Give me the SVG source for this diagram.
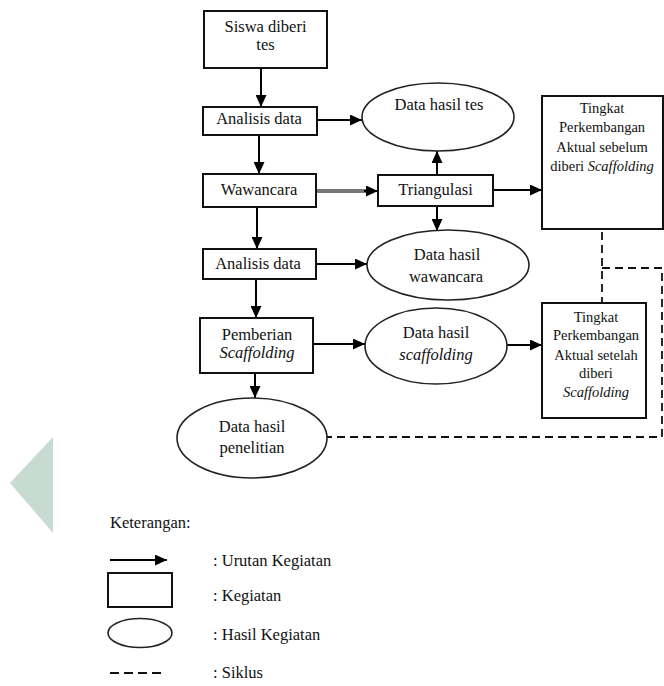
<svg xmlns="http://www.w3.org/2000/svg" width="664" height="686" viewBox="0 0 664 686">
<defs>
<marker id="ah" markerUnits="userSpaceOnUse" markerWidth="12" markerHeight="11" refX="12" refY="5.5" orient="auto">
<path d="M0,0 L12,5.5 L0,11 z" fill="#000"/>
</marker>
<style>
.box{fill:#fff;stroke:#111;stroke-width:2}
.ell{fill:#fff;stroke:#222;stroke-width:1.6}
text{font-family:'Liberation Serif','Times New Roman',Tinos,'Noto Serif','DejaVu Serif',FreeSerif,Georgia,serif;fill:#111}
.t{font-size:16.5px;text-anchor:middle}
.s{font-size:14.5px;text-anchor:middle}
.l{font-size:16.5px}
.i{font-style:italic}
.arr{stroke:#000;stroke-width:2;fill:none;marker-end:url(#ah)}
.dash{stroke:#111;stroke-width:1.8;fill:none;stroke-dasharray:8 5}
</style>
</defs>
<rect width="664" height="686" fill="#fff"/>
<polygon points="10,483 53,437 53,533" fill="#c8dbd2"/>

<g id="connectors">
<line class="arr" x1="261" y1="68" x2="261" y2="107"/>
<line class="arr" x1="317" y1="120" x2="362" y2="120"/>
<line class="arr" x1="259" y1="135" x2="259" y2="174"/>
<line x1="316" y1="191" x2="366" y2="191" stroke="#777" stroke-width="4"/>
<line class="arr" x1="364" y1="191" x2="378" y2="191"/>
<line class="arr" x1="257" y1="207" x2="257" y2="249"/>
<line class="arr" x1="316" y1="264" x2="367" y2="264"/>
<line class="arr" x1="256" y1="279" x2="256" y2="318"/>
<line class="arr" x1="313" y1="344" x2="365" y2="344"/>
<line class="arr" x1="255" y1="373" x2="255" y2="398"/>
<line class="arr" x1="437" y1="175" x2="437" y2="151"/>
<line class="arr" x1="437" y1="206" x2="437" y2="231"/>
<line class="arr" x1="493" y1="190" x2="542" y2="190"/>
<line class="arr" x1="507" y1="345" x2="542" y2="345"/>
<path class="dash" d="M602,232 V303 M602,268 H662 V437 H327"/>
</g>

<g id="n1"><rect class="box" x="204" y="11" width="123" height="57"/>
<text class="t" x="265.5" y="32">Siswa diberi</text><text class="t" x="265.5" y="50">tes</text></g>
<g id="n2"><rect class="box" x="203" y="107" width="114" height="28"/>
<text class="t" x="259" y="124">Analisis data</text></g>
<g id="n3"><rect class="box" x="203" y="174" width="113" height="33"/>
<text class="t" x="259" y="195">Wawancara</text></g>
<g id="n4"><rect class="box" x="203" y="249" width="113" height="30"/>
<text class="t" x="258" y="269">Analisis data</text></g>
<g id="n5"><rect class="box" x="200" y="318" width="113" height="55"/>
<text class="t" x="257" y="340">Pemberian</text><text class="t i" x="257" y="358">Scaffolding</text></g>
<g id="e4"><ellipse class="ell" cx="252" cy="438" rx="75" ry="40"/>
<text class="t" x="252" y="432">Data hasil</text><text class="t" x="252" y="453">penelitian</text></g>
<g id="e1"><ellipse class="ell" cx="438" cy="117" rx="76" ry="34"/>
<text class="t" x="439" y="110">Data hasil tes</text></g>
<g id="tri"><rect class="box" x="378" y="175" width="115" height="31"/>
<text class="t" x="435.5" y="195">Triangulasi</text></g>
<g id="e2"><ellipse class="ell" cx="448" cy="265" rx="81" ry="35"/>
<text class="t" x="447" y="260">Data hasil</text><text class="t" x="446" y="282">wawancara</text></g>
<g id="e3"><ellipse class="ell" cx="436" cy="346" rx="71" ry="38"/>
<text class="t" x="436" y="338">Data hasil</text><text class="t i" x="436" y="360">scaffolding</text></g>
<g id="b1"><rect class="box" x="542" y="96" width="121" height="133"/>
<text class="s" x="602" y="113">Tingkat</text><text class="s" x="602" y="132">Perkembangan</text>
<text class="s" x="602" y="152">Aktual sebelum</text><text class="s" x="602" y="171">diberi <tspan class="i">Scaffolding</tspan></text></g>
<g id="b2"><rect class="box" x="542" y="303" width="104" height="115"/>
<text class="s" x="596" y="322">Tingkat</text><text class="s" x="596" y="340">Perkembangan</text>
<text class="s" x="596" y="360">Aktual setelah</text><text class="s" x="596" y="378">diberi</text>
<text class="s i" x="596" y="397">Scaffolding</text></g>

<g id="legend">
<text class="l" x="110" y="528">Keterangan:</text>
<line class="arr" x1="110" y1="560" x2="167" y2="560"/>
<text class="l" x="213" y="566">: Urutan Kegiatan</text>
<rect class="box" x="108" y="573" width="64" height="34"/>
<text class="l" x="213" y="601">: Kegiatan</text>
<ellipse class="ell" cx="140" cy="633" rx="32" ry="14.5"/>
<text class="l" x="213" y="640">: Hasil Kegiatan</text>
<line x1="110" y1="673" x2="165" y2="673" stroke="#111" stroke-width="1.8" stroke-dasharray="9 5"/>
<text class="l" x="213" y="678">: Siklus</text>
</g>
</svg>
